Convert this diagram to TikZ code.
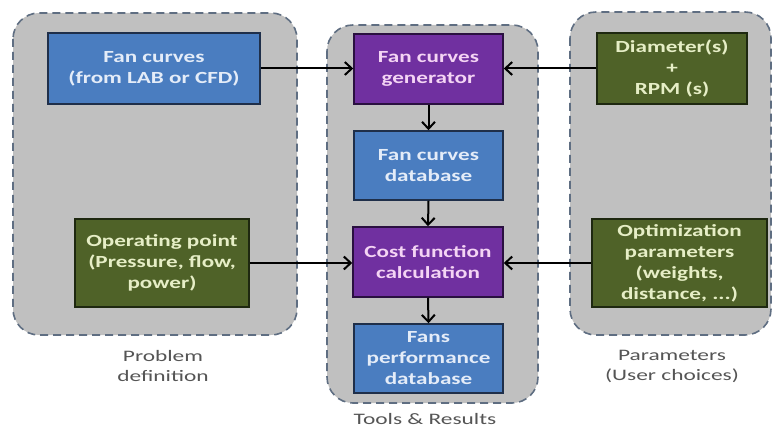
\documentclass[tikz,border=0pt]{standalone}
\usepackage{fontspec}
\setmainfont{Carlito}[FakeStretch=1.36]
\newfontfamily\capfont{Carlito}[FakeStretch=1.46]
\usetikzlibrary{arrows.meta}
\definecolor{panelfill}{HTML}{C0C0C0}
\definecolor{paneldash}{HTML}{5F6E82}
\definecolor{bluebox}{HTML}{4A7DC0}
\definecolor{blueedge}{HTML}{1F2F4A}
\definecolor{bluetext}{HTML}{E4ECF8}
\definecolor{purplebox}{HTML}{7030A0}
\definecolor{purpleedge}{HTML}{2A1040}
\definecolor{purpletext}{HTML}{F4D4F4}
\definecolor{greenbox}{HTML}{4F6228}
\definecolor{greenedge}{HTML}{1E2810}
\definecolor{greentext}{HTML}{E6EEC6}
\definecolor{labeltext}{HTML}{555555}
\tikzset{
  panel/.style={fill=panelfill, draw=paneldash, line width=1.6pt, dash pattern=on 8pt off 5pt, rounded corners=26pt},
  boxbase/.style={rectangle, line width=1.5pt, align=center, inner sep=2pt, font=\fontsize{17}{21}\selectfont\bfseries},
  bluestep/.style={boxbase, fill=bluebox, draw=blueedge, text=bluetext},
  purplestep/.style={boxbase, fill=purplebox, draw=purpleedge, text=purpletext},
  greenstep/.style={boxbase, fill=greenbox, draw=greenedge, text=greentext},
  caption/.style={align=center, text=labeltext, font=\capfont\fontsize{16}{20}\selectfont},
  flow/.style={draw=black, line width=2pt, -{Straight Barb[length=7pt,width=13pt,line width=2pt]}}
}
\begin{document}
\begin{tikzpicture}[x=1pt,y=-1pt]
\useasboundingbox[fill=white] (0,0) rectangle (773,427);
% panels
\path[panel] (13,13) rectangle (297,335);
\path[panel] (327,25) rectangle (538,403);
\path[panel] (570,12) rectangle (771,335);
% boxes
\node[bluestep, minimum width=212pt, minimum height=71pt] (fan) at (154,68.5) {Fan curves\\(from LAB or CFD)};
\node[greenstep, minimum width=174pt, minimum height=88pt] (op) at (162,263) {Operating point\\(Pressure, flow,\\power)};
\node[purplestep, minimum width=149pt, minimum height=70pt] (gen) at (428.5,69) {Fan curves\\generator};
\node[bluestep, minimum width=149pt, minimum height=69pt] (db) at (428.5,165.5) {Fan curves\\database};
\node[purplestep, minimum width=150pt, minimum height=70pt] (cost) at (428,262) {Cost function\\calculation};
\node[bluestep, minimum width=149pt, minimum height=69pt] (perf) at (428.5,358.5) {Fans\\performance\\database};
\node[greenstep, minimum width=150pt, minimum height=71pt] (diam) at (672,68.5) {Diameter(s)\\+\\RPM (s)};
\node[greenstep, minimum width=175pt, minimum height=88pt] (opt) at (679.5,263) {Optimization\\parameters\\(weights,\\distance, ...)};
% captions
\node[caption] (cap1) at (163,366) {Problem\\definition};
\node[caption] (cap2) at (425,419) {Tools \& Results};
\node[caption] (cap3) at (672,366) {Parameters\\(User choices)};
% connectors
\draw[flow] (fan.east) -- (fan.east -| gen.west);
\draw[flow] (diam.west) -- (diam.west -| gen.east);
\draw[flow] (gen.south) -- (db.north);
\draw[flow] (db.south) -- (cost.north);
\draw[flow] (cost.south) -- (perf.north);
\draw[flow] (op.east) -- (op.east -| cost.west);
\draw[flow] (opt.west) -- (opt.west -| cost.east);
\end{tikzpicture}
\end{document}
